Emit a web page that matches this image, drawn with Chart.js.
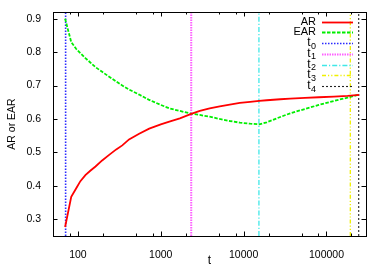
<!DOCTYPE html>
<html><head><meta charset="utf-8">
<script src="https://cdn.jsdelivr.net/npm/chart.js@4/dist/chart.umd.min.js"></script>
<style>html,body{margin:0;padding:0;background:#fff}#w{width:382px;height:268px}</style>
</head><body><div id="w"><canvas id="c" width="382" height="268"></canvas></div>
<script>
const tValues = [70, 83, 95, 107, 123, 141, 163, 196, 236, 290, 343, 414, 548, 725, 1000, 1268, 1700, 2330, 2960, 3890, 5150, 6800, 9000, 12000, 15400, 19000, 27700, 36500, 55000, 80800, 123000, 180000, 248000];
const arValues = [0.277, 0.367, 0.392, 0.414, 0.432, 0.445, 0.458, 0.476, 0.492, 0.509, 0.521, 0.539, 0.556, 0.571, 0.584, 0.592, 0.602, 0.615, 0.624, 0.632, 0.638, 0.643, 0.648, 0.651, 0.654, 0.656, 0.659, 0.661, 0.663, 0.665, 0.667, 0.669, 0.672];
const earValues = [0.9, 0.83, 0.81, 0.797, 0.782, 0.769, 0.755, 0.741, 0.727, 0.712, 0.700, 0.688, 0.673, 0.657, 0.642, 0.632, 0.624, 0.616, 0.612, 0.607, 0.600, 0.594, 0.589, 0.586, 0.584, 0.590, 0.606, 0.617, 0.630, 0.642, 0.654, 0.664, 0.673];
const markerNames = ['t\u2080', 't\u2081', 't\u2082', 't\u2083', 't\u2084'];
const markerTimes = [71, 2330, 15300, 194000, 245000];
const xTickLabels = [100, 1000, 10000, 100000];
const xMinorTicks = [80, 200, 500, 800, 2000, 5000, 8000, 20000, 50000, 80000, 200000];
const yTickLabels = [0.3, 0.4, 0.5, 0.6, 0.7, 0.8, 0.9];
const xRange = [50, 300000];
const yRange = [0.25, 0.92];

const markerColors = ['#2a2aff', '#ff60ff', '#40e8e8', '#f0f000', '#222222'];
const markerWidths = [1.6, 2, 1.3, 1.3, 1.1];
const markerDash = [[1.5, 1.5], [1.5, 1], [5, 2, 1.2, 2], [4, 2, 1.2, 2, 1.2, 2], [2, 2]];

const datasets = [
  {label: 'AR', data: tValues.map((t, i) => ({x: t, y: arValues[i]})), borderColor: '#ff0000', borderWidth: 1.8, borderDash: []},
  {label: 'EAR', data: tValues.map((t, i) => ({x: t, y: earValues[i]})), borderColor: '#00ee00', borderWidth: 1.8, borderDash: [3.5, 1.5]}
];
markerNames.forEach((n, i) => {
  datasets.push({label: n, data: [{x: markerTimes[i], y: yRange[0]}, {x: markerTimes[i], y: yRange[1]}],
    borderColor: markerColors[i], borderWidth: markerWidths[i], borderDash: markerDash[i]});
});
datasets.forEach(d => { d.pointRadius = 0; d.fill = false; d.tension = 0; });

const FONT = 'Liberation Sans, Arial, sans-serif';

function drawLabel(ctx, label, xRight, y) {
  const m = /^(.*?)([\u2080-\u2089])$/.exec(label);
  if (!m) { ctx.font = '11px ' + FONT; ctx.fillText(label, xRight, y); return; }
  const sub = String.fromCharCode(m[2].charCodeAt(0) - 0x2080 + 48);
  ctx.font = '9px ' + FONT;
  const sw = ctx.measureText(sub).width;
  ctx.fillText(sub, xRight, y + 3);
  ctx.font = '12px ' + FONT;
  ctx.fillText(m[1], xRight - sw - 0.3, y - 0.5);
}

const framePlugin = {
  id: 'frame',
  afterDatasetsDraw(chart) {
    const ctx = chart.ctx, a = chart.chartArea, xs = chart.scales.x, ys = chart.scales.y;
    ctx.save();
    ctx.strokeStyle = '#000'; ctx.lineWidth = 1; ctx.setLineDash([]);
    ctx.strokeRect(Math.round(a.left) + 0.5, Math.round(a.top) + 0.5, Math.round(a.right - a.left), Math.round(a.bottom - a.top));
    ctx.beginPath();
    const tick = (v, len) => {
      const x = Math.round(xs.getPixelForValue(v)) + 0.5;
      ctx.moveTo(x, a.bottom); ctx.lineTo(x, a.bottom - len);
      ctx.moveTo(x, a.top); ctx.lineTo(x, a.top + len);
    };
    xTickLabels.forEach(v => tick(v, 4.5));
    xMinorTicks.forEach(v => tick(v, 2.5));
    yTickLabels.forEach(v => {
      const y = Math.round(ys.getPixelForValue(v)) + 0.5;
      ctx.moveTo(a.left, y); ctx.lineTo(a.left + 4.5, y);
      ctx.moveTo(a.right, y); ctx.lineTo(a.right - 4.5, y);
    });
    ctx.stroke();
    // legend
    ctx.fillStyle = '#000'; ctx.textAlign = 'right'; ctx.textBaseline = 'middle';
    chart.data.datasets.forEach((d, i) => {
      const y = 21.7 + i * 10.75;
      drawLabel(ctx, d.label, 316, y);
      ctx.strokeStyle = d.borderColor; ctx.lineWidth = Math.min(d.borderWidth, 1.8); ctx.setLineDash(d.borderDash || []);
      ctx.beginPath(); ctx.moveTo(322, Math.round(y) + 0.5); ctx.lineTo(353, Math.round(y) + 0.5); ctx.stroke();
    });
    ctx.restore();
  }
};

new Chart(document.getElementById('c'), {
  type: 'line',
  data: {datasets},
  options: {
    responsive: false, animation: false, devicePixelRatio: 1,
    layout: {padding: {top: 12, right: 16, left: 0, bottom: 0}},
    plugins: {legend: {display: false}, tooltip: {enabled: false}},
    scales: {
      x: {
        type: 'logarithmic', min: xRange[0], max: xRange[1],
        grid: {display: false}, border: {display: false},
        afterBuildTicks: s => { s.ticks = xTickLabels.map(v => ({value: v})); },
        afterFit: s => { s.height = 32; },
        ticks: {color: '#000', font: {family: FONT, size: 10.5}, padding: 5, maxRotation: 0, autoSkip: false,
          callback: v => String(v)},
        title: {display: true, text: 't', color: '#000', font: {family: FONT, size: 12}, padding: {top: 0, bottom: 0}}
      },
      y: {
        type: 'linear', min: yRange[0], max: yRange[1],
        grid: {display: false}, border: {display: false},
        afterBuildTicks: s => { s.ticks = yTickLabels.map(v => ({value: v})); },
        afterFit: s => { s.width = 53; },
        ticks: {color: '#000', font: {family: FONT, size: 10.5}, padding: 4, callback: v => Number(v).toFixed(1)},
        title: {display: true, text: 'AR or EAR', color: '#000', font: {family: FONT, size: 10.5}, padding: {top: 6, bottom: 0}}
      }
    }
  },
  plugins: [framePlugin]
});
</script></body></html>
